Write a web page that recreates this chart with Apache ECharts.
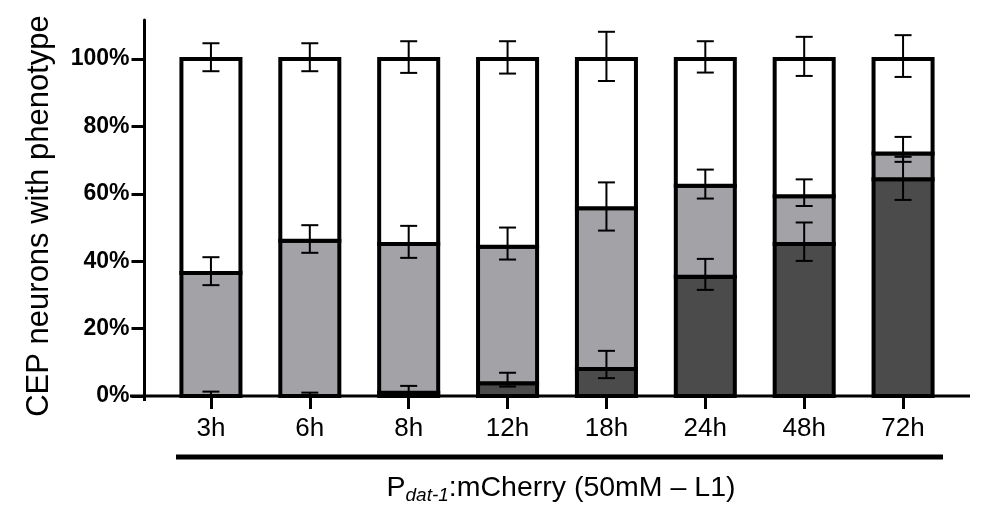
<!DOCTYPE html>
<html>
<head>
<meta charset="utf-8">
<script src="https://cdn.jsdelivr.net/npm/echarts@6/dist/echarts.min.js"></script>
<style>
html,body{margin:0;padding:0;background:#fff;}
#chart{width:981px;height:514px;}
</style>
</head>
<body>
<div id="chart"></div>
<script>
// ---- data ----
const categories = ['3h', '6h', '8h', '12h', '18h', '24h', '48h', '72h'];
const yTickValues = [0, 20, 40, 60, 80, 100];

// stacked segment heights (%)
const darkPct  = [0, 0, 1, 3.8, 8, 35.4, 45.1, 64.3];
const lightPct = [36.5, 46.1, 44.1, 40.5, 47.7, 27.0, 14.2, 7.7];
const whitePct = [63.5, 53.9, 54.9, 55.7, 44.3, 37.6, 40.7, 28.0];

// error bar ends (cumulative %) at the top of each segment
const darkErrLow   = [0, 0, 0, 2.8, 5.3, 31.5, 40.1, 58.2];
const darkErrHigh  = [1.3, 1.0, 3.0, 6.9, 13.4, 40.7, 51.5, 71.0];
const lightErrLow  = [32.9, 42.5, 41.0, 40.5, 49.1, 58.6, 56.4, 69.5];
const lightErrHigh = [41.2, 50.7, 50.5, 50.0, 63.4, 67.2, 64.3, 76.9];
const whiteErrLow  = [96.4, 96.4, 95.9, 95.7, 93.5, 96.0, 95.0, 94.7];
const whiteErrHigh = [104.7, 104.7, 105.3, 105.3, 108.1, 105.3, 106.6, 107.1];

// ---- chart ----
const FONT = '"Liberation Sans", Arial, Helvetica, sans-serif';
const chart = echarts.init(document.getElementById('chart'), null, {renderer: 'canvas'});

// segments stacked from the arrays above
function segData(below, seg) {
  return categories.map((c, i) => {
    let start = 0;
    below.forEach(arr => { start += arr[i]; });
    return [i, start, start + seg[i]];
  });
}
function segRender(color) {
  return function (params, api) {
    const x = api.value(0);
    const p0 = api.coord([x, api.value(1)]);
    const p1 = api.coord([x, api.value(2)]);
    const w = api.size([1, 0])[0] * 0.597;
    return {
      type: 'rect',
      shape: {x: p0[0] - w / 2, y: p1[1], width: w, height: p0[1] - p1[1]},
      style: {fill: color, stroke: '#000', lineWidth: 4}
    };
  };
}
function segSeries(name, below, seg, color, z) {
  return {
    name: name, type: 'custom', renderItem: segRender(color),
    data: segData(below, seg), encode: {x: 0, y: [1, 2]}, z: z, silent: true
  };
}

function errRender(params, api) {
  const x = api.value(0);
  const pLo = api.coord([x, api.value(1)]);
  const pHi = api.coord([x, api.value(2)]);
  const half = 8.5;
  const st = {stroke: '#000', lineWidth: 2};
  return {
    type: 'group',
    children: [
      {type: 'line', shape: {x1: pLo[0], y1: pLo[1], x2: pHi[0], y2: pHi[1]}, style: st},
      {type: 'line', shape: {x1: pHi[0] - half, y1: pHi[1], x2: pHi[0] + half, y2: pHi[1]}, style: st},
      {type: 'line', shape: {x1: pLo[0] - half, y1: pLo[1], x2: pLo[0] + half, y2: pLo[1]}, style: st}
    ]
  };
}
function errSeries(lo, hi) {
  return {
    type: 'custom', renderItem: errRender,
    data: categories.map((c, i) => [i, lo[i], hi[i]]),
    encode: {x: 0, y: [1, 2]}, z: 10, silent: true
  };
}

const option = {
  animation: false,
  backgroundColor: '#fff',
  textStyle: {fontFamily: FONT},
  grid: {left: 161.5, right: 28.5, top: 20, bottom: 118, containLabel: false, outerBoundsMode: 'none'},
  xAxis: {
    type: 'category',
    data: categories,
    axisLine: {show: false},
    axisTick: {show: true, alignWithLabel: true, length: 13, lineStyle: {color: '#000', width: 3}},
    axisLabel: {color: '#000', fontSize: 26, fontFamily: FONT, margin: 20}
  },
  yAxis: {
    type: 'value',
    min: 0, max: 111.6, interval: 20,
    offset: 17,
    name: 'CEP neurons with phenotype',
    nameLocation: 'middle',
    nameGap: 90,
    nameTextStyle: {color: '#000', fontSize: 31, fontFamily: FONT, padding: [0, 16, 0, 0]},
    axisLine: {show: true, lineStyle: {color: '#000', width: 3}},
    axisTick: {show: true, length: 13, lineStyle: {color: '#000', width: 3}, customValues: yTickValues},
    axisLabel: {
      color: '#000', fontSize: 23, fontWeight: 'bold', fontFamily: FONT, margin: 15,
      customValues: yTickValues,
      formatter: v => (v <= 100 ? v + '%' : '')
    },
    splitLine: {show: false}
  },
  graphic: [
    {type: 'line', shape: {x1: 130, y1: 396, x2: 970, y2: 396}, style: {stroke: '#000', lineWidth: 3}, z: 1},
    {type: 'line', shape: {x1: 144.5, y1: 396, x2: 144.5, y2: 401}, style: {stroke: '#000', lineWidth: 3}, z: 1},
    {type: 'rect', shape: {x: 176, y: 454.5, width: 767, height: 5}, style: {fill: '#000'}},
    {
      type: 'text', x: 561, y: 488,
      style: {
        text: '{p|P}{s|dat-1}{m|:mCherry (50mM – L1)}',
        align: 'center', verticalAlign: 'middle',
        rich: {
          p: {fontSize: 28.5, fontFamily: FONT, fill: '#000', lineHeight: 34},
          m: {fontSize: 28.5, fontFamily: FONT, fill: '#000', lineHeight: 34},
          s: {fontSize: 19, fontFamily: FONT, fontStyle: 'italic', fill: '#000', lineHeight: 18, verticalAlign: 'bottom'}
        }
      }
    }
  ],
  series: [
    segSeries('dark', [], darkPct, '#4b4b4b', 2),
    segSeries('light', [darkPct], lightPct, '#a3a2a7', 3),
    segSeries('white', [darkPct, lightPct], whitePct, '#ffffff', 4),
    errSeries(darkErrLow, darkErrHigh),
    errSeries(lightErrLow, lightErrHigh),
    errSeries(whiteErrLow, whiteErrHigh)
  ]
};
chart.setOption(option);
</script>
</body>
</html>
